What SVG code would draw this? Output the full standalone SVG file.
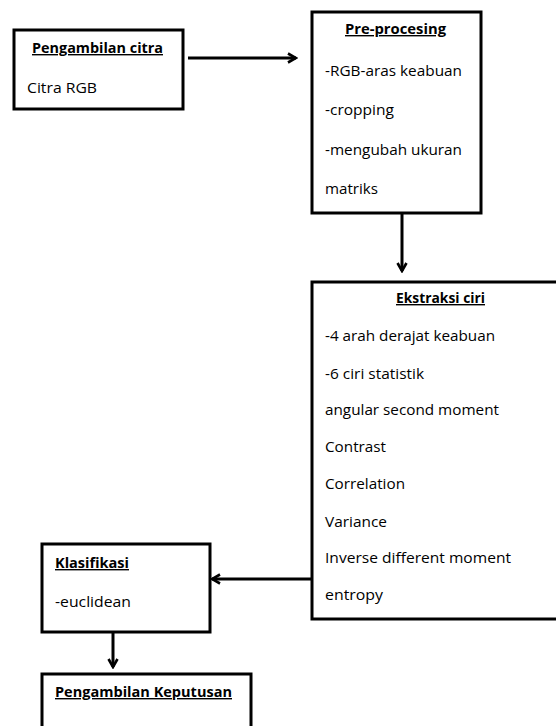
<svg xmlns="http://www.w3.org/2000/svg" width="556" height="726" viewBox="0 0 556 726">
<defs>
<marker id="ah" viewBox="0 0 12 12" refX="10" refY="6" markerWidth="12" markerHeight="12" markerUnits="userSpaceOnUse" orient="auto">
<polyline points="2,1.5 10,6 2,10.5" fill="none" stroke="#000" stroke-width="2.6"/>
</marker>
</defs>
<style>
.box{fill:#fff;stroke:#000;stroke-width:3}
.t{font-family:"Open Sans","Liberation Sans",sans-serif;font-size:14px;fill:#000}
.h{font-weight:bold;text-decoration:underline}
.c{fill:none;stroke:#000;stroke-width:3}
</style>
<rect width="556" height="726" fill="#fff"/>
<g id="connectors">
<line class="c" x1="188" y1="58" x2="296" y2="58" marker-end="url(#ah)"/>
<line class="c" x1="402" y1="213" x2="402" y2="271" marker-end="url(#ah)"/>
<line class="c" x1="312" y1="579" x2="212" y2="579" marker-end="url(#ah)"/>
<line class="c" x1="113" y1="632" x2="113" y2="667" marker-end="url(#ah)"/>
</g>
<g id="n1">
<rect class="box" x="14" y="30" width="169" height="79"/>
<text class="t h" x="32" y="53" textLength="131" lengthAdjust="spacingAndGlyphs">Pengambilan citra</text>
<text class="t" x="27" y="93" textLength="70" lengthAdjust="spacingAndGlyphs">Citra RGB</text>
</g>
<g id="n2">
<rect class="box" x="312" y="12" width="169" height="201"/>
<text class="t h" x="345" y="34" textLength="101" lengthAdjust="spacingAndGlyphs">Pre-procesing</text>
<text class="t" x="325" y="76" textLength="137" lengthAdjust="spacingAndGlyphs">-RGB-aras keabuan</text>
<text class="t" x="325" y="115" textLength="69" lengthAdjust="spacingAndGlyphs">-cropping</text>
<text class="t" x="325" y="155" textLength="137" lengthAdjust="spacingAndGlyphs">-mengubah ukuran</text>
<text class="t" x="325" y="194" textLength="53" lengthAdjust="spacingAndGlyphs">matriks</text>
</g>
<g id="n3">
<rect class="box" x="312" y="282" width="260" height="337"/>
<text class="t h" x="396" y="303" textLength="89" lengthAdjust="spacingAndGlyphs">Ekstraksi ciri</text>
<text class="t" x="325" y="341" textLength="170" lengthAdjust="spacingAndGlyphs">-4 arah derajat keabuan</text>
<text class="t" x="325" y="379" textLength="99" lengthAdjust="spacingAndGlyphs">-6 ciri  statistik</text>
<text class="t" x="325" y="415" textLength="174" lengthAdjust="spacingAndGlyphs">angular second moment</text>
<text class="t" x="325" y="452" textLength="61" lengthAdjust="spacingAndGlyphs">Contrast</text>
<text class="t" x="325" y="489" textLength="80" lengthAdjust="spacingAndGlyphs">Correlation</text>
<text class="t" x="325" y="527" textLength="62" lengthAdjust="spacingAndGlyphs">Variance</text>
<text class="t" x="325" y="563" textLength="186" lengthAdjust="spacingAndGlyphs">Inverse different moment</text>
<text class="t" x="325" y="600" textLength="58" lengthAdjust="spacingAndGlyphs">entropy</text>
</g>
<g id="n4">
<rect class="box" x="42" y="544" width="168" height="88"/>
<text class="t h" x="55" y="568" textLength="74" lengthAdjust="spacingAndGlyphs">Klasifikasi</text>
<text class="t" x="55" y="607" textLength="76" lengthAdjust="spacingAndGlyphs">-euclidean</text>
</g>
<g id="n5">
<rect class="box" x="42" y="674" width="209" height="70"/>
<text class="t h" x="55" y="697" textLength="177" lengthAdjust="spacingAndGlyphs">Pengambilan Keputusan</text>
</g>
</svg>
